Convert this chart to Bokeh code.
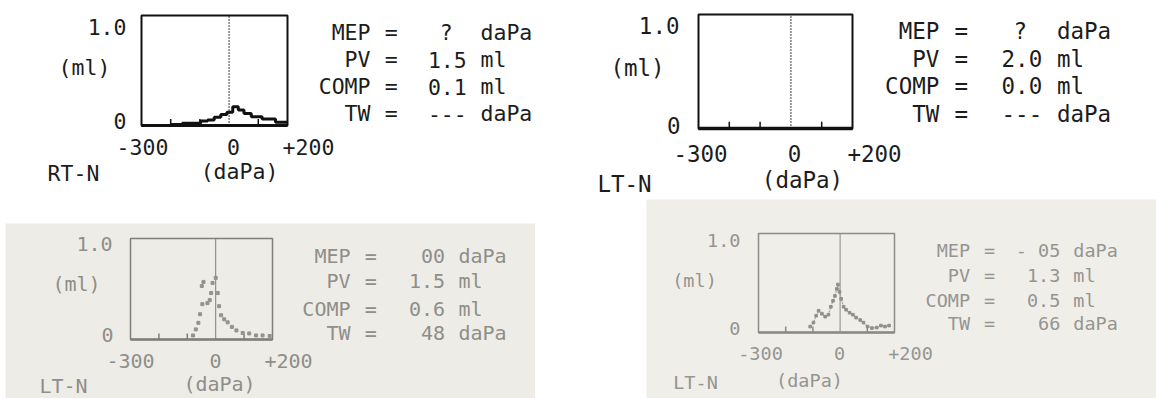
from bokeh.plotting import figure
from bokeh.models import Range1d, Label, Spacer
from bokeh.layouts import row, column
from bokeh.embed import file_html
from bokeh.resources import INLINE

# ---------------- data ----------------
x_min, x_max = -300, 200          # daPa
y_min, y_max = 0.0, 1.0           # ml
x_tick_labels = ["-300", "0", "+200"]
y_tick_labels = ["0", "1.0"]
minor_ticks = [-200, -100, 100]
zero_pressure = 0

# RT-N (top left) – stepped dot-matrix trace
p1_pressure = [-300, -260, -220, -180, -140, -110, -85, -62, -40, -17, 2, 23, 40, 62, 90, 136, 182, 200]
p1_comp = [0.0, 0.0, 0.0, 0.01, 0.02, 0.02, 0.04, 0.05, 0.075, 0.10, 0.12, 0.17, 0.14, 0.11, 0.08, 0.06, 0.03, 0.03]

# LT-N (top right) – flat trace
p2_pressure = [-300, 200]
p2_comp = [0.0, 0.0]

# LT-N (bottom left) – dotted trace
p3_pressure = [-80, -70, -61, -55, -47, -49, -43, -29, -21, -16, -11, 0, 7, 12, 19, 30, 42, 57, 73, 95, 118, 142, 165, 190]
p3_comp = [0.04, 0.10, 0.165, 0.25, 0.35, 0.53, 0.57, 0.36, 0.39, 0.46, 0.56, 0.61, 0.46, 0.33, 0.24, 0.20, 0.17, 0.125, 0.09, 0.065, 0.06, 0.04, 0.04, 0.035]

# LT-N (bottom right) – dotted trace
p4_pressure = [-110, -98, -88, -79, -67, -55, -43, -34, -26, -19, -12, -8, -2, 4, 13, 22, 35, 47, 59, 74, 86, 101, 117, 135, 150, 165, 180]
p4_comp = [0.06, 0.10, 0.17, 0.22, 0.19, 0.16, 0.18, 0.26, 0.32, 0.37, 0.44, 0.485, 0.41, 0.34, 0.26, 0.23, 0.20, 0.18, 0.15, 0.126, 0.10, 0.06, 0.045, 0.05, 0.07, 0.06, 0.07]

ear_labels = ["RT-N", "LT-N", "LT-N", "LT-N"]
mep_values = ["?", "?", "00", "- 05"]
pv_values = ["1.5", "2.0", "1.5", "1.3"]
comp_values = ["0.1", "0.0", "0.6", "0.5"]
tw_values = ["---", "---", "48", "66"]
row_names = ["MEP", "PV", "COMP", "TW"]
row_units = ["daPa", "ml", "ml", "daPa"]

# ---------------- layout / style ----------------
FONT = "DejaVu Sans Mono"
# ox, oy, w, h: figure placement on the page; L, R, T, B: tympanogram box (page pixels)
specs = [
    dict(ox=0, oy=0, w=578, h=195, L=141, R=287, T=15, B=125, bg="#ffffff", fg="#1c1c1c", line="#111111", ow=2, fs=21.5,
         y1=(126, 26), y0=(126, 120), ml=(84, 67), xl=[142, 233, 308], xy=146, ear=(73, 173), dapa=(239, 171),
         s=315, cw=13.75, rows=[32, 59, 86, 113]),
    dict(ox=578, oy=0, w=578, h=195, L=698, R=852, T=14, B=128, bg="#ffffff", fg="#1c1c1c", line="#111111", ow=2, fs=22.5,
         y1=(679, 25), y0=(680, 125), ml=(637, 67), xl=[700, 794, 874], xy=153, ear=(624, 183), dapa=(802, 179),
         s=880, cw=14.7, rows=[30, 58, 85, 113]),
    dict(ox=5, oy=223, w=530, h=175, L=130, R=272, T=238, B=339, bg="#eeece6", fg="#8e8e8a", line="#7e7e7a", ow=1.5, fs=20,
         y1=(112, 243), y0=(113, 334), ml=(76, 283), xl=[130, 215, 288], xy=360, ear=(63, 385), dapa=(219, 383),
         s=296, cw=13.5, rows=[255, 280, 308, 332]),
    dict(ox=646, oy=199, w=510, h=199, L=758, R=894, T=233, B=332, bg="#f0eee9", fg="#959591", line="#8a8a86", ow=1.5, fs=18.5,
         y1=(740, 240), y0=(740, 328), ml=(694, 280), xl=[760, 839, 910], xy=353, ear=(695, 382), dapa=(809, 380),
         s=918, cw=12.9, rows=[250, 275, 300, 323]),
]


def to_data(sp, px, py):
    x = x_min + (px - sp["L"]) / (sp["R"] - sp["L"]) * (x_max - x_min)
    y = y_min + (sp["B"] - py) / (sp["B"] - sp["T"]) * (y_max - y_min)
    return x, y


def add_text(p, sp, px, py, text, align="center"):
    x, y = to_data(sp, px, py)
    p.add_layout(Label(x=x, y=y, text=text, text_align=align, text_baseline="middle",
                       text_font=FONT, text_font_size=f"{sp['fs']}px", text_color=sp["fg"]))


def make_panel(i):
    sp = specs[i]
    x0, y0 = to_data(sp, sp["ox"], sp["oy"] + sp["h"])
    x1, y1 = to_data(sp, sp["ox"] + sp["w"], sp["oy"])
    p = figure(width=sp["w"], height=sp["h"], title=None,
               x_range=Range1d(x0, x1), y_range=Range1d(y0, y1),
               x_axis_type=None, y_axis_type=None, toolbar_location=None, output_backend="svg",
               min_border=0, min_border_left=0, min_border_right=0,
               min_border_top=0, min_border_bottom=0,
               background_fill_color=sp["bg"], border_fill_color=sp["bg"],
               outline_line_color=None)
    # zero-pressure reference line
    if i < 2:
        p.segment(x0=[zero_pressure], y0=[y_min], x1=[zero_pressure], y1=[y_max],
                  line_color=sp["line"], line_width=1.6, line_dash="1 2")
    else:
        p.segment(x0=[zero_pressure], y0=[y_min], x1=[zero_pressure], y1=[y_max],
                  line_color=sp["line"], line_width=1)
    # tympanogram box
    p.quad(left=[x_min], right=[x_max], bottom=[y_min], top=[y_max], fill_alpha=0,
           line_color=sp["line"], line_width=sp["ow"])
    # heavier baseline
    p.line([x_min, x_max], [y_min, y_min], line_color=sp["line"], line_width=sp["ow"] * 1.6)
    # inner tick marks on the pressure axis
    p.segment(x0=minor_ticks, y0=[y_min] * len(minor_ticks), x1=minor_ticks,
              y1=[y_min + 0.06] * len(minor_ticks), line_color=sp["line"], line_width=1.5)

    # tick labels and axis titles
    add_text(p, sp, *sp["y1"], y_tick_labels[1], "right")
    add_text(p, sp, *sp["y0"], y_tick_labels[0], "right")
    add_text(p, sp, *sp["ml"], "(ml)")
    for xp, lab in zip(sp["xl"], x_tick_labels):
        add_text(p, sp, xp, sp["xy"], lab)
    add_text(p, sp, *sp["ear"], ear_labels[i])
    add_text(p, sp, *sp["dapa"], "(daPa)")

    # result block
    vals = [mep_values[i], pv_values[i], comp_values[i], tw_values[i]]
    s, cw = sp["s"], sp["cw"]
    for name, val, unit, ry in zip(row_names, vals, row_units, sp["rows"]):
        add_text(p, sp, s + 4 * cw, ry, name, "right")
        add_text(p, sp, s + 5.5 * cw, ry, "=")
        if val == "?":
            add_text(p, sp, s + 9.5 * cw, ry, val)
        else:
            add_text(p, sp, s + 11 * cw, ry, val, "right")
        add_text(p, sp, s + 12 * cw, ry, unit, "left")
    return p


p1 = make_panel(0)
p1.step(p1_pressure, p1_comp, mode="center", line_color=specs[0]["line"], line_width=3)

p2 = make_panel(1)
p2.line(p2_pressure, p2_comp, line_color=specs[1]["line"], line_width=3.5)

p3 = make_panel(2)
p3.scatter(p3_pressure, p3_comp, marker="square", size=3, color="#93938e")

p4 = make_panel(3)
p4.line(p4_pressure, p4_comp, line_color="#a2a29d", line_width=1.2, line_dash="2 1")
p4.scatter(p4_pressure, p4_comp, marker="square", size=2.6, color="#90908b")

layout = column(
    row(p1, p2, spacing=0),
    row(Spacer(width=5, height=203),
        column(Spacer(width=530, height=28), p3, spacing=0),
        Spacer(width=111, height=203),
        column(Spacer(width=510, height=4), p4, spacing=0), spacing=0),
    spacing=0,
)

open("out.html", "w").write(file_html(layout, INLINE))
